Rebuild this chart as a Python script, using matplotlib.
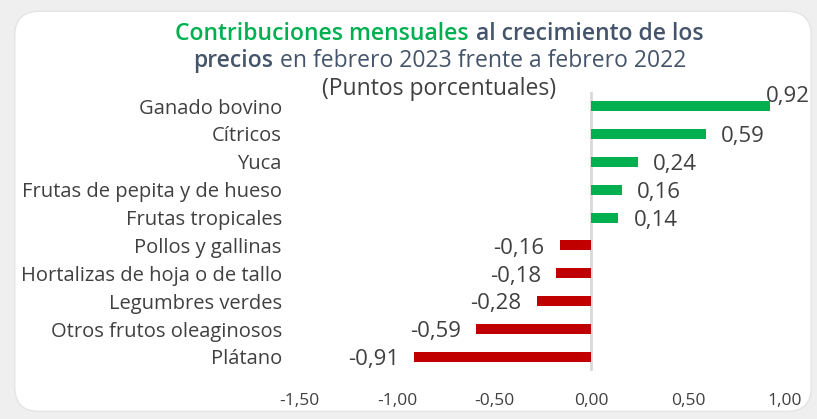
import matplotlib
matplotlib.use("Agg")
import matplotlib.pyplot as plt
from matplotlib.patches import FancyBboxPatch
from matplotlib.offsetbox import TextArea, HPacker, VPacker, AnchoredOffsetbox

categories = ["Ganado bovino", "Cítricos", "Yuca", "Frutas de pepita y de hueso",
              "Frutas tropicales", "Pollos y gallinas", "Hortalizas de hoja o de tallo",
              "Legumbres verdes", "Otros frutos oleaginosos", "Plátano"]
values = [0.92, 0.59, 0.24, 0.16, 0.14, -0.16, -0.18, -0.28, -0.59, -0.91]
ticks = [-1.5, -1.0, -0.5, 0.0, 0.5, 1.0]
tick_labels = ["-1,50", "-1,00", "-0,50", "0,00", "0,50", "1,00"]

GREEN = "#00B050"
RED = "#C00000"
DARK = "#44546A"
TXT = "#404040"
FONT = "Open Sans"
plt.rcParams['font.family'] = [FONT, 'DejaVu Sans']

fig = plt.figure(figsize=(8.17, 4.19), dpi=100)
fig.patch.set_facecolor("#EFEFEF")
bg = FancyBboxPatch((0.018, 0.018), 0.975, 0.955, boxstyle="round,pad=0,rounding_size=0.03",
                    transform=fig.transFigure, facecolor="white", edgecolor="#E4E4E4",
                    linewidth=1, zorder=-10, mutation_aspect=817/419)
fig.patches.append(bg)

ax = fig.add_axes([0.367, 0.115, 0.594, 0.665])
ax.set_zorder(5)
ax.set_facecolor("none")
y = list(range(len(categories)))
colors = [GREEN if v >= 0 else RED for v in values]
ax.barh(y, values, height=0.36, color=colors, zorder=3)
ax.axvline(0, color="#D9D9D9", linewidth=2, zorder=2)
ax.set_ylim(len(categories) - 0.5, -0.5)
ax.set_xlim(-1.5, 1.0)
ax.set_yticks(y)
ax.set_yticklabels(categories, fontsize=14.5, color=TXT)
ax.set_xticks(ticks)
ax.set_xticklabels(tick_labels, fontsize=12.5, color=TXT)
ax.tick_params(axis='both', length=0)
ax.tick_params(axis='x', pad=16)
ax.tick_params(axis='y', pad=13)
for s in ax.spines.values():
    s.set_visible(False)

for i, v in enumerate(values):
    lab = f"{v:.2f}".replace(".", ",")
    if i == 0:
        ax.annotate(lab, (v, i), xytext=(-3, 7), textcoords="offset points",
                    ha="left", va="center", fontsize=16, color=TXT)
    elif v >= 0:
        ax.annotate(lab, (v, i), xytext=(11, -2), textcoords="offset points",
                    ha="left", va="center", fontsize=16, color=TXT)
    else:
        ax.annotate(lab, (v, i), xytext=(-11, -2), textcoords="offset points",
                    ha="right", va="center", fontsize=16, color=TXT)

fs = 16.5
l1 = HPacker(children=[
    TextArea("Contribuciones mensuales", textprops=dict(color=GREEN, fontsize=fs, fontweight="semibold")),
    TextArea("al crecimiento de los", textprops=dict(color=DARK, fontsize=fs, fontweight="semibold")),
], pad=0, sep=5, align="baseline")
l2 = HPacker(children=[
    TextArea("precios", textprops=dict(color=DARK, fontsize=fs, fontweight="semibold")),
    TextArea("en febrero 2023 frente a febrero 2022", textprops=dict(color=DARK, fontsize=fs)),
], pad=0, sep=5, align="baseline")
l3 = TextArea("(Puntos porcentuales)", textprops=dict(color=TXT, fontsize=fs))
box = VPacker(children=[l1, l2, l3], pad=0, sep=2.5, align="center")
anch = AnchoredOffsetbox(loc="upper center", child=box, frameon=False,
                         bbox_to_anchor=(0.538, 0.948), bbox_transform=fig.transFigure,
                         borderpad=0, pad=0)
fig.add_artist(anch)

fig.savefig("out.png", dpi=100, facecolor=fig.get_facecolor())
